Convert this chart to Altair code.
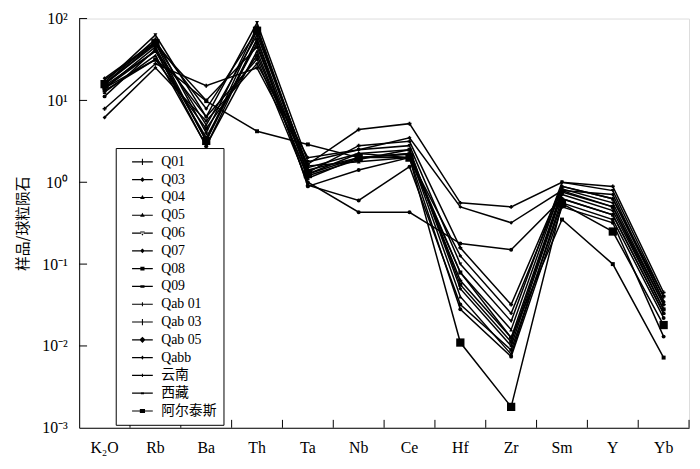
import altair as alt
import pandas as pd

elements = ["K₂O", "Rb", "Ba", "Th", "Ta", "Nb", "Ce", "Hf", "Zr", "Sm", "Y", "Yb"]
samples = ["Q01", "Q03", "Q04", "Q05", "Q06", "Q07", "Q08", "Q09",
           "Qab 01", "Qab 03", "Qab 05", "Qabb", "云南", "西藏", "阿尔泰斯"]

q01 = [15.8, 56, 4.0, 79, 1.41, 2.0, 2.24, 0.063, 0.0126, 0.79, 0.50, 0.032]
q03 = [14.1, 45, 3.2, 56, 1.26, 2.24, 2.5, 0.050, 0.010, 0.71, 0.45, 0.028]
q04 = [17.8, 50, 5.0, 63, 1.58, 1.78, 2.0, 0.079, 0.0158, 0.89, 0.63, 0.035]
q05 = [12.6, 35.5, 2.8, 40, 1.12, 2.0, 2.24, 0.040, 0.0079, 0.63, 0.40, 0.025]
q06 = [16.6, 63, 6.3, 89, 1.78, 2.5, 2.8, 0.10, 0.020, 1.0, 0.79, 0.040]
q07 = [15.1, 40, 3.5, 50, 0.92, 0.60, 1.55, 0.032, 0.0089, 0.56, 0.35, 0.022]
q08 = [18.6, 52, 7.9, 71, 1.51, 2.24, 2.0, 0.126, 0.025, 0.83, 0.56, 0.032]
q09 = [13.2, 31.6, 4.5, 35.5, 1.2, 1.9, 2.5, 0.056, 0.0112, 0.76, 0.50, 0.028]
qab01 = [15.8, 48, 10, 45, 1.32, 2.8, 3.16, 0.158, 0.032, 0.89, 0.63, 0.040]
qab03 = [7.9, 28, 15.1, 25, 1.66, 4.4, 5.2, 0.56, 0.50, 1.0, 0.89, 0.045]
qab05 = [11.2, 42, 2.75, 56, 0.89, 1.41, 2.0, 0.028, 0.0074, 0.50, 0.32, 0.013]
qabb = [6.2, 25, 5.6, 28, 2.0, 2.5, 3.5, 0.50, 0.32, 0.79, 0.71, 0.035]
yunnan = [14.1, 31.6, 9.8, 4.2, 2.9, 2.0, 2.2, 0.079, 0.0126, 0.35, 0.10, 0.0072]
xizang = [14.1, 40, 6.3, 32, 1.0, 0.43, 0.43, 0.178, 0.15, 0.63, 0.40, 0.025]
altai = [15.8, 50, 3.2, 71, 1.26, 2.0, 2.0, 0.011, 0.0018, 0.55, 0.25, 0.018]

series = [q01, q03, q04, q05, q06, q07, q08, q09, qab01, qab03, qab05, qabb,
          yunnan, xizang, altai]

y_tick_values = [0.001, 0.01, 0.1, 1, 10, 100]
inner_y_ticks = [0.01, 0.1, 1, 10, 100]

marker_shapes = ["cross", "diamond", "triangle-up", "triangle-up", "triangle-down",
                 "circle", "diamond", "square", "cross", "cross", "circle",
                 "diamond", "square", "circle", "square"]
LINE = "M-2,-0.11H2V0.11H-2Z"
legend_paths = [
    LINE + "M-0.1,-0.6H0.1V0.6H-0.1Z",
    LINE + "M0,-0.45L0.45,0L0,0.45L-0.45,0Z",
    LINE + "M0,-0.5L0.45,0.3H-0.45Z",
    LINE + "M0,-0.5L0.45,0.3H-0.45Z",
    LINE + "M0,0.5L0.45,-0.3H-0.45Z",
    LINE + "M0,-0.45L0.45,0L0,0.45L-0.45,0Z",
    LINE + "M-0.4,-0.35H0.4V0.35H-0.4Z",
    LINE + "M-0.4,-0.25H0.4V0.25H-0.4Z",
    LINE + "M-0.1,-0.4H0.1V0.4H-0.1Z",
    LINE + "M-0.1,-0.6H0.1V0.6H-0.1Z",
    LINE + "M0,-0.6L0.6,0L0,0.6L-0.6,0Z",
    LINE + "M0,-0.4L0.3,0L0,0.4L-0.3,0Z",
    LINE + "M-0.1,-0.3H0.1V0.3H-0.1Z",
    LINE + "M-0.3,-0.2H0.3V0.2H-0.3Z",
    LINE + "M-0.5,-0.4H0.5V0.4H-0.5Z",
]

rows = []
for s, vals in zip(samples, series):
    for e, v in zip(elements, vals):
        rows.append({"sample": s, "element": e, "value": v})
df = pd.DataFrame(rows)

serif = "Liberation Serif, Noto Sans CJK SC"

xscale = alt.Scale(type="band", domain=elements, paddingInner=0, paddingOuter=0)
yscale = alt.Scale(type="log", domain=[0.001, 100], nice=False)

xaxis = alt.Axis(title=None, ticks=False, labelAngle=0, labelFont=serif,
                 labelFontSize=16, labelColor="black", labelPadding=12,
                 domainColor="black", domainWidth=1, grid=False)
label_expr = ("datum.value >= 50 ? '10²' : datum.value >= 5 ? '10¹' : "
              "datum.value >= 0.5 ? '10⁰' : datum.value >= 0.05 ? '10⁻¹' : "
              "datum.value >= 0.005 ? '10⁻²' : '10⁻³'")
yaxis = alt.Axis(title="样品/球粒陨石", values=y_tick_values, ticks=False,
                 labelExpr=label_expr, labelFont=serif, labelFontSize=16,
                 labelColor="black", labelPadding=12, domainColor="black",
                 domainWidth=1, grid=False, titleFont="Noto Sans CJK SC",
                 titleFontSize=15, titleFontWeight="normal", titleColor="black",
                 titleX=-57, titleY=207, titleAngle=270, titleAlign="center",
                 titleBaseline="middle")

X = alt.X("element:N", sort=elements, scale=xscale, axis=xaxis)
Y = alt.Y("value:Q", scale=yscale, axis=yaxis)

base = alt.Chart(df)

lines = base.mark_line(color="black", strokeWidth=1.5).encode(
    x=X, y=Y, detail="sample:N")

points = base.mark_point(filled=True, color="black", opacity=1).encode(
    x=X, y=Y,
    shape=alt.Shape("sample:N", scale=alt.Scale(domain=samples, range=marker_shapes),
                    legend=None),
    size=alt.condition(alt.datum.sample == "阿尔泰斯", alt.value(70), alt.value(16)),
)

legend_layer = base.transform_filter("false").mark_point(
    filled=True, fill="black", stroke="black", strokeWidth=1, opacity=1).encode(
    x=X, y=Y,
    shape=alt.Shape("sample:N", scale=alt.Scale(domain=samples, range=legend_paths),
                    legend=alt.Legend(title=None, orient="none", legendX=37, legendY=131,
                                      strokeColor="black", fillColor="white",
                                      padding=7, symbolOffset=13, symbolSize=110,
                                      symbolStrokeWidth=1, symbolFillColor="black",
                                      symbolStrokeColor="black", symbolOpacity=1,
                                      labelFont=serif, labelFontSize=14,
                                      labelColor="black", labelOffset=12,
                                      labelExpr="datum.label + '\u3000\u2002'",
                                      rowPadding=4)),
)

ytick_df = pd.DataFrame({"value": inner_y_ticks})
yticks = alt.Chart(ytick_df).mark_rule(color="black", strokeWidth=1).encode(
    y=Y, x=alt.value(0), x2=alt.value(8))

xtick_df = pd.DataFrame({"element": elements})
xticks = alt.Chart(xtick_df).mark_rule(color="black", strokeWidth=1).encode(
    x=alt.X("element:N", sort=elements, scale=xscale, axis=xaxis, bandPosition=1),
    y=alt.value(406), y2=alt.value(414))

chart = alt.layer(lines, points, legend_layer, yticks, xticks).resolve_scale(
    shape="independent"
).resolve_legend(shape="independent").properties(
    width=617, height=414,
    autosize=alt.AutoSizeParams(type="none"),
    padding={"left": 72, "top": 8, "right": 3, "bottom": 38},
).configure_view(stroke=None).configure(background="white")

chart.save("out.html", embed_options={"renderer": "svg", "actions": False})
